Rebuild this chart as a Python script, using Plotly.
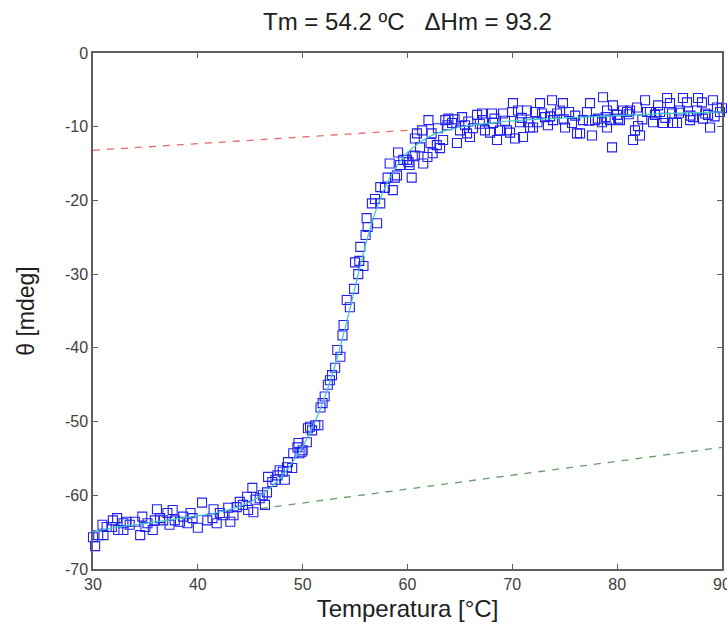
import plotly.graph_objects as go

# ---- data ----
temp_low = [30.0, 30.2, 30.5, 30.9, 31.0, 31.3, 31.8, 31.9, 32.3, 32.4, 32.9, 32.9, 33.2, 33.5, 34.0,
            34.5, 34.7, 35.0, 35.2, 35.7, 35.9, 36.1, 36.4, 36.7, 37.1, 37.3, 37.6, 37.8, 38.3, 38.6,
            39.0, 39.3, 39.5, 40.0, 40.4, 40.9, 41.4, 41.5, 41.8, 42.1, 42.4, 42.9, 43.1, 43.4, 43.7,
            44.0, 44.3, 44.7, 44.8, 45.2, 45.3, 45.5, 45.9, 46.2, 46.4, 46.6, 46.7, 47.1, 47.4, 47.6,
            47.8, 48.1, 48.3, 48.5, 48.6, 49.0, 49.1, 49.5, 49.6, 49.7, 49.9, 50.0, 50.4, 50.5, 50.7,
            50.9, 51.2, 51.5]
theta_low = [-65.7, -66.9, -65.4, -64.0, -65.4, -64.3, -64.3, -63.4, -63.1, -64.7, -64.7, -63.8, -63.6, -64.0, -63.6,
             -65.4, -62.9, -64.3, -63.8, -64.7, -63.4, -61.9, -63.1, -63.4, -62.4, -64.0, -62.0, -63.4, -63.6, -62.9,
             -63.8, -62.4, -63.1, -64.4, -61.0, -63.4, -63.1, -61.9, -63.8, -62.4, -62.7, -61.7, -63.6, -62.7, -61.6,
             -60.9, -61.3, -60.2, -62.0, -59.0, -62.3, -60.6, -60.4, -60.0, -61.3, -59.6, -57.5, -58.2, -57.9, -57.3,
             -56.6, -56.8, -57.9, -56.2, -55.5, -56.3, -54.3, -53.5, -52.9, -54.3, -54.1, -53.9, -52.8, -50.9, -50.7,
             -51.2, -50.5, -50.5]

temp_mid = [51.7, 51.9, 52.1, 52.4, 52.6, 52.8, 53.1, 53.3, 53.6, 53.8, 53.9, 54.2, 54.5, 54.9, 55.0,
            55.3, 55.4, 55.5, 55.8, 56.0, 56.2, 56.1, 56.6, 56.9, 57.1, 57.4, 57.4, 57.85, 58.1, 58.3,
            58.6, 58.8, 59.0, 59.1, 59.3, 59.6, 59.95, 60.1, 60.2, 60.4, 60.5, 60.7, 60.7, 60.9, 61.2,
            61.4, 61.5, 61.9, 62.0, 62.2, 62.3, 62.4, 62.8, 62.9, 63.1, 63.4, 63.6, 63.8, 63.9]
theta_mid = [-48.1, -47.5, -46.6, -45.0, -44.4, -43.7, -42.7, -40.3, -41.2, -38.3, -36.9, -33.5, -34.5, -32.0, -28.4,
             -30.0, -28.2, -26.3, -28.9, -24.7, -23.6, -22.4, -20.4, -19.8, -23.1, -20.4, -18.2, -18.3, -16.9, -15.0,
             -18.6, -16.9, -16.6, -13.5, -15.2, -14.5, -14.5, -14.8, -15.2, -16.9, -14.0, -11.6, -13.9, -10.9, -12.8,
             -10.5, -15.0, -14.1, -9.1, -12.2, -10.9, -13.6, -12.5, -10.2, -12.9, -11.8, -9.1, -9.8, -8.9]

temp_high = [64.25, 64.72, 65.01, 65.20, 65.49, 65.68, 65.96, 66.25, 66.63, 67.11, 67.20, 67.39, 67.87, 68.06, 68.16,
             68.54, 68.82, 69.11, 69.49, 69.78, 69.97, 70.06, 70.26, 70.54, 70.73, 71.02, 71.40, 71.50, 71.69, 71.97,
             72.16, 72.64, 72.83, 73.12, 73.40, 73.79, 73.88, 74.26, 74.55, 74.83, 75.03, 75.41, 75.69, 76.17, 76.46,
             76.74, 77.12, 77.41, 77.60, 77.89, 78.17, 78.55, 78.65, 79.03, 79.03, 79.32, 79.51, 79.60, 79.99, 80.27,
             80.56, 80.94, 81.23, 81.51, 81.70, 81.89, 81.99, 82.18, 82.66, 82.85, 83.13, 83.42, 83.90, 84.09, 84.38,
             84.76, 85.04, 85.23, 85.33, 85.71, 86.00, 86.28, 86.66, 86.95, 87.24, 87.62, 87.71, 88.09, 88.19, 88.67,
             88.86, 89.14, 89.52, 89.81, 90.0,
             64.5, 65.8, 66.9, 68.3, 69.3, 70.9, 72.4, 73.6, 74.9, 76.0, 77.3, 78.9, 80.1, 81.1, 82.4,
             83.6, 84.6, 85.9, 87.0, 88.4, 89.3]
theta_high = [-9.5, -12.2, -10.5, -8.7, -9.8, -10.9, -11.4, -10.2, -8.4, -8.2, -9.1, -10.5, -10.8, -8.2, -9.5,
              -11.8, -10.5, -8.2, -10.5, -10.8, -8.0, -6.8, -11.6, -7.8, -9.4, -11.4, -7.8, -9.4, -10.1, -10.1,
              -8.0, -6.8, -8.2, -8.7, -9.8, -6.4, -9.1, -8.2, -7.8, -6.8, -10.1, -8.0, -9.5, -10.9, -10.9,
              -9.1, -8.0, -6.8, -11.2, -9.1, -8.9, -9.4, -6.0, -10.1, -7.8, -9.1, -12.8, -7.1, -8.4, -9.1,
              -7.8, -8.0, -7.8, -11.8, -10.5, -7.4, -9.9, -11.2, -6.4, -8.0, -8.0, -9.4, -7.1, -8.0, -9.5,
              -6.1, -6.8, -8.2, -9.5, -9.5, -7.8, -6.1, -6.7, -9.1, -8.7, -7.8, -6.1, -6.7, -8.9, -8.4,
              -10.1, -6.4, -7.4, -8.0, -7.5,
              -9.0, -9.3, -9.6, -8.9, -9.2, -8.8, -9.4, -8.6, -9.0, -8.5, -9.2, -8.7, -8.9, -8.3, -9.0,
              -8.4, -8.8, -8.1, -8.5, -8.2, -8.6]

fit_temp = [30, 32, 34, 36, 38, 40, 42, 44, 45, 46, 47, 48, 49, 50, 51, 52, 53, 54, 55, 56,
            57, 58, 59, 60, 61, 62, 63, 64, 66, 68, 70, 75, 80, 85, 90]
fit_theta = [-64.9, -64.4, -64.0, -63.6, -63.2, -62.8, -62.3, -61.5, -60.9, -60.0, -58.9, -57.4, -55.6, -53.4,
             -50.6, -47.1, -42.8, -37.6, -31.8, -26.0, -21.3, -17.8, -15.3, -13.5, -12.3, -11.4, -10.8, -10.4,
             -9.8, -9.5, -9.2, -8.8, -8.5, -8.2, -8.0]

native_temp = [30, 61]
native_theta = [-13.2, -10.4]
unfolded_temp = [46, 90]
unfolded_theta = [-61.8, -53.5]

y_ticks = [0, -10, -20, -30, -40, -50, -60, -70]
y_tick_text = ["0", "-10", "-20", "-30", "-40", "-50", "-60", "-70"]
x_ticks = [30, 40, 50, 60, 70, 80, 90]

title_text = "Tm = 54.2 ºC\u00a0\u00a0\u00a0ΔHm = 93.2"

FONT = "Liberation Sans, Arial, sans-serif"

fig = go.Figure()
fig.add_trace(go.Scatter(x=native_temp, y=native_theta, mode="lines",
                         line=dict(color="#e86a6a", width=1.3, dash="7px,7px"), hoverinfo="skip"))
fig.add_trace(go.Scatter(x=unfolded_temp, y=unfolded_theta, mode="lines",
                         line=dict(color="#6a9a6a", width=1.3, dash="7px,7px"), hoverinfo="skip"))
fig.add_trace(go.Scatter(x=temp_low + temp_mid + temp_high, y=theta_low + theta_mid + theta_high,
                         mode="markers", cliponaxis=False,
                         marker=dict(symbol="square-open", size=9, color="#2020f0", line=dict(width=1.1))))
fig.add_trace(go.Scatter(x=fit_temp, y=fit_theta, mode="lines", line_shape="spline",
                         line=dict(color="#40c8c8", width=1.2)))

axis_common = dict(showgrid=False, zeroline=False, showline=True, linecolor="#606060", linewidth=1.5,
                   mirror="ticks", ticks="inside", ticklen=5, tickcolor="#606060", tickwidth=1.2,
                   automargin=False, ticklabeloverflow="allow",
                   tickfont=dict(family=FONT, size=16, color="#404040"))

fig.update_layout(
    width=727, height=632,
    margin=dict(l=93, r=5, t=53, b=63, autoexpand=False),
    paper_bgcolor="white", plot_bgcolor="white",
    showlegend=False,
    font=dict(family=FONT),
    title=dict(text=title_text, x=0.5, xref="paper", y=1 - 22 / 632, yref="container",
               xanchor="center", yanchor="middle", automargin=False,
               font=dict(family=FONT, size=24, color="#202020")),
    xaxis=dict(range=[30, 90], tickvals=x_ticks,
               title=dict(text="Temperatura [°C]", standoff=8,
                          font=dict(family=FONT, size=24, color="#202020")),
               **axis_common),
    yaxis=dict(range=[-70, 0], tickvals=y_ticks, ticktext=y_tick_text,
               title=dict(text="θ [mdeg]", standoff=24,
                          font=dict(family=FONT, size=23, color="#202020")),
               **axis_common),
)

fig.write_html(
    "out.html",
    config={"displayModeBar": False},
    post_script="document.body.style.margin='0';document.body.style.overflow='hidden';",
)
